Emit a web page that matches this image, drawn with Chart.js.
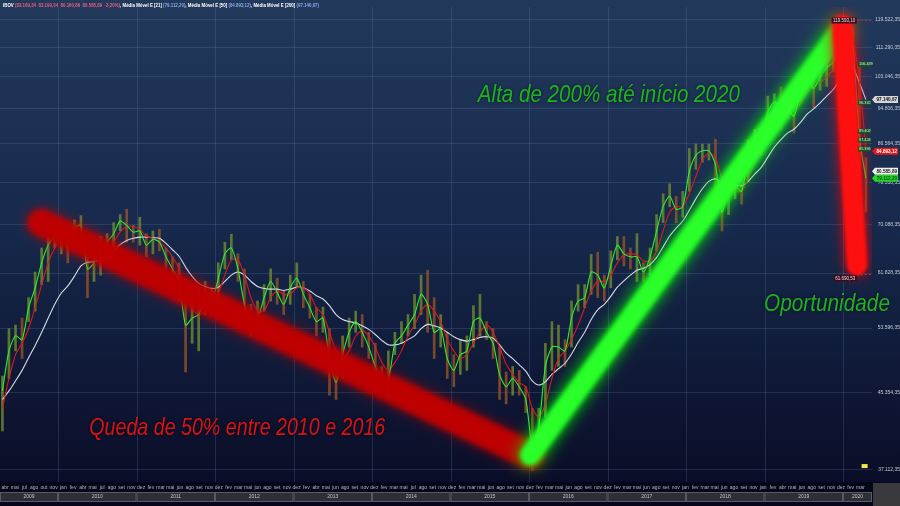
<!DOCTYPE html>
<html lang="pt-BR">
<head>
  <meta charset="UTF-8" />
  <title>IBOV - Queda, Alta e Oportunidade</title>
  <script src="https://cdn.jsdelivr.net/npm/chart.js"></script>
  <style>
    html, body { margin: 0; padding: 0; background: #0a0f2c; }
    canvas { display: block; }
  </style>
</head>
<body>
  <canvas id="ibovChart" width="900" height="506"></canvas>

  <script>
    // primeiro ponto = abr/2009 (meses contados a partir de jan/2009)
    const firstMonth = 3;

    // valores mensais em milhares de pontos (abr/2009 .. abr/2020)
    const ema21 = [
      45.5, 50.5, 52.5, 52.0, 56.5, 59.5, 63.5, 66.5, 68.0,
      68.5, 66.0, 69.5, 70.0, 62.5, 63.5, 65.5, 67.0, 68.5, 70.8, 70.0, 68.8,
      69.0, 66.5, 67.5, 67.0, 64.5, 62.5, 60.5, 54.0, 55.0, 55.5, 57.5, 57.5,
      61.0, 65.0, 66.0, 62.5, 57.0, 54.5, 55.0, 58.0, 60.5, 58.8, 57.0, 59.5,
      61.0, 58.5, 56.5, 54.5, 55.0, 49.5, 46.5, 50.0, 53.0, 54.5, 53.0, 51.0,
      48.5, 47.0, 47.0, 51.5, 52.5, 54.0, 55.5, 58.5, 57.0, 53.0, 53.5, 49.5,
      48.0, 50.0, 50.5, 54.5, 55.0, 53.0, 51.5, 47.5, 46.0, 47.0, 46.0, 44.5,
      39.5, 41.5, 48.5, 51.0, 51.0, 50.5, 55.0, 57.5, 58.0, 62.0, 61.5, 59.5,
      63.0, 66.5, 65.0, 64.5, 64.5, 62.0, 64.5, 69.0, 73.5, 75.5, 73.0, 73.5,
      80.5, 84.0, 85.0, 85.0, 82.0, 72.5, 76.5, 77.5, 76.5, 83.5, 87.0, 87.0,
      94.0, 96.5, 95.5, 95.0, 93.0, 99.0, 103.0, 100.0, 103.0, 105.5, 107.0, 112.0,
      116.0, 111.5, 88.0, 79.1
    ];
    const ema50 = [
      43.5, 47.0, 50.0, 51.5, 53.5, 56.5, 60.0, 63.5, 66.0,
      67.5, 67.5, 68.0, 68.5, 66.5, 65.0, 64.5, 65.5, 67.0, 68.8, 69.8, 69.8,
      69.3, 68.0, 67.7, 67.0, 66.0, 64.5, 62.5, 58.5, 56.5, 55.5, 56.0, 57.0,
      58.7, 61.5, 64.0, 64.0, 61.5, 58.0, 56.0, 56.0, 58.0, 59.0, 58.5, 58.5,
      59.5, 59.5, 58.5, 56.5, 55.5, 53.0, 50.5, 49.5, 50.5, 52.5, 53.2, 52.5,
      51.0, 49.0, 48.0, 49.0, 50.5, 52.5, 54.0, 56.0, 57.0, 56.0, 54.5, 52.0,
      50.5, 49.5, 50.0, 51.5, 53.0, 54.0, 53.0, 51.0, 48.8, 47.5, 46.5, 46.0,
      43.5, 42.5, 44.0, 47.0, 49.5, 50.5, 52.0, 54.0, 56.5, 59.0, 60.5, 60.5,
      61.5, 63.5, 64.8, 65.0, 64.8, 63.8, 63.8, 65.5, 69.0, 72.5, 73.5, 73.5,
      76.0, 79.5, 83.0, 84.5, 83.5, 79.0, 77.5, 76.5, 76.5, 79.0, 82.5, 85.5,
      89.5, 93.0, 95.0, 95.5, 94.8, 96.0, 99.0, 100.5, 101.5, 103.0, 105.0, 108.0,
      112.5, 112.5, 102.0, 84.9
    ];
    const ema200 = [
      44.5, 45.5, 46.7, 48.0, 49.6, 51.2, 53.0, 55.0, 57.0,
      58.7, 59.8, 61.3, 63.0, 63.6, 63.7, 64.0, 64.7, 65.5, 66.6, 67.3, 67.7,
      67.9, 67.9, 67.8, 67.7, 66.8, 65.7, 64.6, 62.8, 61.3, 60.2, 59.7, 59.4,
      59.6, 60.5, 61.5, 62.0, 61.5, 60.5, 59.7, 59.4, 59.3, 59.3, 59.1, 59.3,
      59.6, 59.5, 59.0, 58.3, 57.8, 56.8, 55.5, 54.8, 54.5, 54.3, 53.9, 53.4,
      52.7, 51.9, 51.3, 51.3, 51.5, 52.0, 52.5, 53.5, 54.1, 53.9, 53.6, 53.0,
      52.4, 52.0, 51.8, 52.0, 52.3, 52.4, 52.2, 51.3, 50.2, 49.5, 48.7, 47.9,
      46.7, 46.2, 46.6, 47.5, 48.2, 48.9, 50.1, 51.6, 53.0, 54.8, 56.2, 57.0,
      58.2, 59.6, 60.6, 61.5, 62.3, 62.6, 63.2, 64.4, 66.2, 68.1, 69.5, 70.8,
      72.8, 75.0, 77.0, 78.5, 79.0, 78.2, 77.9, 77.8, 77.6, 78.5, 80.0, 81.4,
      83.6, 85.8, 87.5, 89.0, 89.9, 91.5, 93.5, 94.8, 96.3, 98.0, 99.7, 102.0,
      104.5, 105.5, 101.5, 97.1
    ];
    const highs = [
      47.3, 53.5, 54.0, 55.0, 58.0, 62.0, 66.0, 68.0, 69.5,
      70.5, 68.0, 71.0, 71.8, 68.0, 66.0, 68.0, 68.5, 70.5, 72.0, 73.0, 70.0,
      71.5, 68.5, 69.0, 69.3, 66.0, 64.5, 63.5, 59.0, 58.5, 59.5, 60.5, 59.5,
      63.5, 67.0, 68.4, 65.0, 62.5, 57.0, 57.5, 60.0, 62.5, 61.0, 59.0, 61.5,
      63.5, 60.5, 58.5, 56.5, 56.6, 53.5, 49.0, 52.5, 55.0, 56.0, 55.5, 53.0,
      51.5, 48.5, 50.5, 53.0, 54.5, 55.5, 58.5, 61.5, 62.3, 58.0, 55.5, 53.0,
      50.0, 52.0, 52.5, 56.8, 58.5, 54.5, 53.5, 51.0, 47.8, 48.5, 48.0, 46.0,
      43.5, 43.5, 51.5, 54.5, 54.0, 52.0, 57.5, 60.0, 60.0, 64.9, 65.3, 61.5,
      65.5, 68.0, 68.0, 66.0, 68.5, 63.5, 66.0, 72.0, 76.0, 78.0, 75.5, 76.5,
      85.5, 86.5, 86.5, 86.5, 87.6, 77.5, 80.0, 81.0, 80.0, 87.5, 89.9, 90.0,
      98.0, 98.6, 100.4, 97.0, 97.0, 101.0, 106.0, 104.5, 105.5, 108.4, 109.5, 117.0,
      119.6, 117.0, 106.0, 83.5
    ];
    const lows = [
      41.0, 47.0, 50.5, 49.5, 54.5, 56.0, 60.0, 60.5, 66.0,
      65.0, 63.5, 67.0, 67.0, 58.0, 60.5, 61.5, 64.8, 65.5, 69.0, 67.0, 67.0,
      66.5, 64.5, 65.0, 65.5, 62.5, 60.5, 57.5, 47.8, 51.5, 50.5, 55.5, 55.5,
      57.0, 62.5, 64.0, 60.5, 54.0, 52.5, 53.0, 56.0, 57.5, 57.0, 55.5, 57.0,
      59.5, 56.5, 55.0, 52.5, 53.0, 45.0, 44.5, 47.0, 51.0, 53.0, 51.0, 49.5,
      46.5, 45.5, 44.9, 50.0, 51.5, 52.5, 53.5, 55.5, 53.0, 49.5, 51.0, 47.0,
      46.0, 47.5, 48.0, 51.0, 52.5, 52.0, 49.5, 44.5, 44.0, 45.0, 45.0, 43.0,
      37.0, 39.5, 42.5, 48.0, 48.5, 48.5, 51.0, 56.0, 56.5, 58.5, 58.0, 57.5,
      59.5, 64.0, 63.0, 62.5, 60.5, 60.5, 61.5, 65.5, 70.5, 73.5, 70.5, 71.5,
      76.5, 81.0, 82.5, 83.0, 76.0, 69.0, 72.0, 75.0, 74.0, 78.5, 84.5, 84.0,
      88.0, 94.0, 89.8, 92.5, 89.0, 96.5, 100.5, 95.0, 99.5, 100.5, 104.5, 108.0,
      112.5, 102.0, 61.7, 72.5
    ];

    // setas desenhadas por cima (mes, pontos)
    const fallX = [9.4, 84.15];
    const fallY = [70500, 38480];
    const riseX = [84.15, 131.7];
    const riseY = [38480, 116500];
    const crashX = [131.9, 134.14];
    const crashY = [118000, 63120];

    // eixo de precos (log)
    const yTickValues = [37112.35, 45354.35, 53596.35, 61828.35, 70088.35, 78330.35,
      86564.35, 94806.35, 103046.35, 111290.35, 119522.35];
    const yTickLabels = ['37.112,35', '45.354,35', '53.596,35', '61.828,35', '70.088,35', '78.330,35',
      '86.564,35', '94.806,35', '103.046,35', '111.290,35', '119.522,35'];

    // rotulos do eixo de tempo
    const monthLabels = [
      'abr', 'mai', 'jul', 'ago', 'out', 'nov',
      'jan', 'fev', 'abr', 'mai', 'jul', 'ago', 'set', 'nov',
      'dez', 'fev', 'mar', 'mai', 'jun', 'ago', 'set', 'nov',
      'dez', 'fev', 'mar', 'mai', 'jun', 'ago', 'set', 'nov',
      'dez', 'fev', 'abr', 'mai', 'jun', 'ago', 'set', 'nov',
      'dez', 'fev', 'mar', 'mai', 'jul', 'ago', 'set', 'nov',
      'dez', 'fev', 'mar', 'mai', 'jun', 'ago', 'set', 'nov',
      'dez', 'fev', 'mar', 'mai', 'jun', 'ago', 'set', 'nov',
      'dez', 'fev', 'mar', 'mai', 'jun', 'ago', 'set', 'nov',
      'jan', 'fev', 'mar', 'mai', 'jun', 'ago', 'set', 'nov',
      'jan', 'fev', 'abr', 'mai', 'jun', 'ago', 'set', 'nov', 'dez',
      'fev', 'mar'
    ];
    const years = ['2009', '2010', '2011', '2012', '2013', '2014', '2015', '2016', '2017', '2018', '2019', '2020'];

    // valores finais mostrados a direita
    const lastTags = [
      { value: 97140.67, text: '97.140,67', bg: '#d4d6da', fg: '#111' },
      { value: 84893.12, text: '84.893,12', bg: '#e3161c', fg: '#fff' },
      { value: 80585.89, text: '80.585,89', bg: '#f2f2f2', fg: '#111' },
      { value: 79112.20, text: '79.112,20', bg: '#26d626', fg: '#051' }
    ];
    const fiboTags = [
      { value: 106439, text: '106.439' },
      { value: 96332, text: '96.332' },
      { value: 89402, text: '89.402' },
      { value: 87424, text: '87.424' },
      { value: 85396, text: '85.396' }
    ];
    const peak = { value: 119593.10, text: '119.593,10' };
    const bottom = { value: 61690.53, text: '61.690,53' };

    const headerParts = [
      ['IBOV ', '#ffffff'],
      ['(83.169,34  83.199,34  80.160,86  80.585,89  -3,20%)', '#e5607a'],
      [', Média Móvel E [21] ', '#ffffff'],
      ['(79.112,20)', '#86a9e6'],
      [', Média Móvel E [50] ', '#ffffff'],
      ['(84.893,12)', '#86a9e6'],
      [', Média Móvel E [200] ', '#ffffff'],
      ['(97.140,67)', '#86a9e6']
    ];

    const notes = [
      { text: 'Alta de 200% até início 2020', x: 96.2, y: 98100, color: '#1eb41e', width: 262 },
      { text: 'Queda de 50% entre 2010 e 2016', x: 39.4, y: 41240, color: '#dd1212', width: 296 },
      { text: 'Oportunidade', x: 129.55, y: 56970, color: '#22b022', width: 126 }
    ];

    const months = ema21.map((_, i) => firstMonth + i + 0.5);
    const toPts = arr => arr.map((v, i) => ({ x: months[i], y: v * 1000 }));
    const linePts = (xs, ys) => xs.map((x, i) => ({ x: x, y: ys[i] }));

    const FONT = '"Liberation Sans", Arial, sans-serif';
    const GRID = 'rgba(95,125,175,0.26)';
    const firstTick = 3.898, tickStep = 1.4858;

    // fundo degrade + faixa do eixo de tempo
    const background = {
      id: 'background',
      beforeDraw(chart) {
        const { ctx, width, height, chartArea: a } = chart;
        const g = ctx.createLinearGradient(0, 0, 0, a.bottom);
        g.addColorStop(0, '#22395c');
        g.addColorStop(0.45, '#172a4d');
        g.addColorStop(1, '#0a0d27');
        ctx.save();
        ctx.fillStyle = g;
        ctx.fillRect(0, 0, width, a.bottom);
        ctx.fillStyle = '#05061a';
        ctx.fillRect(0, a.bottom, width, height - a.bottom);
        ctx.fillStyle = '#3a3a3e';
        ctx.fillRect(a.right + 1, a.bottom + 1, width - a.right - 1, height - a.bottom - 1);
        ctx.restore();
      },
      beforeDatasetsDraw(chart) {
        const { ctx, chartArea: a, scales: { x } } = chart;
        ctx.save();
        ctx.strokeStyle = GRID;
        ctx.lineWidth = 1;
        years.forEach((_, k) => {
          const px = Math.round(x.getPixelForValue(12 * k)) + 0.5;
          if (px <= a.left || px >= a.right) return;
          ctx.beginPath();
          ctx.moveTo(px, a.top);
          ctx.lineTo(px, a.bottom);
          ctx.stroke();
        });
        ctx.restore();
      },
      afterDraw(chart) {
        const { ctx, chartArea: a, scales: { x } } = chart;
        ctx.save();
        ctx.textAlign = 'center';
        ctx.textBaseline = 'middle';

        // meses
        ctx.font = '5px ' + FONT;
        ctx.fillStyle = '#b4b4bc';
        monthLabels.forEach((m, i) => {
          const px = x.getPixelForValue(firstTick + i * tickStep);
          ctx.fillText(m, px, a.bottom + 5.5);
        });

        // anos
        const top = a.bottom + 10, h = 10;
        years.forEach((yr, k) => {
          const x0 = Math.max(a.left, x.getPixelForValue(12 * k));
          const x1 = Math.min(a.right, x.getPixelForValue(12 * (k + 1)));
          if (x1 <= x0) return;
          ctx.fillStyle = '#2e2e36';
          ctx.fillRect(x0, top, x1 - x0, h);
          ctx.strokeStyle = '#5a5a64';
          ctx.strokeRect(x0 + 0.5, top + 0.5, x1 - x0 - 1, h - 1);
          ctx.fillStyle = '#c4c4cc';
          ctx.fillText(yr, (x0 + x1) / 2, top + h / 2);
        });
        ctx.restore();
      }
    };

    // brilho das setas
    const glow = {
      id: 'glow',
      beforeDatasetDraw(chart, args) {
        const ds = chart.data.datasets[args.index];
        if (!ds.glow) return;
        chart.ctx.save();
        chart.ctx.shadowColor = ds.glow;
        chart.ctx.shadowBlur = ds.glowBlur || 12;
        chart.ctx.filter = 'blur(' + (ds.soft || 1.5) + 'px)';
      },
      afterDatasetDraw(chart, args) {
        if (chart.data.datasets[args.index].glow) chart.ctx.restore();
      }
    };

    // textos, etiquetas e cabecalho
    const overlay = {
      id: 'overlay',
      afterDraw(chart) {
        const { ctx, chartArea: a, scales: { x, y } } = chart;
        ctx.save();

        // cabecalho
        ctx.font = 'bold 5px ' + FONT;
        ctx.textBaseline = 'middle';
        const total = headerParts.reduce((s, p) => s + ctx.measureText(p[0]).width, 0);
        const sx = 316 / total;
        ctx.save();
        ctx.translate(3, 6);
        ctx.scale(sx, 1);
        let hx = 0;
        headerParts.forEach(([t, c]) => {
          ctx.fillStyle = c;
          ctx.fillText(t, hx, 0);
          hx += ctx.measureText(t).width;
        });
        ctx.restore();

        // maxima e minima
        const dash = (val, label, below) => {
          const py = Math.round(y.getPixelForValue(val)) + 0.5;
          const xEnd = x.getPixelForValue(134.1);
          ctx.strokeStyle = '#b8303c';
          ctx.setLineDash([2, 2]);
          ctx.beginPath();
          ctx.moveTo(xEnd, py);
          ctx.lineTo(a.right, py);
          ctx.stroke();
          ctx.setLineDash([]);
          ctx.font = '4.5px ' + FONT;
          const w = ctx.measureText(label).width + 3;
          const by = below ? py + 1 : py - 3;
          ctx.fillStyle = '#3c0c1c';
          ctx.fillRect(xEnd - w, by, w, 6);
          ctx.fillStyle = '#f2d8dc';
          ctx.textAlign = 'right';
          ctx.fillText(label, xEnd - 1.5, by + 3);
        };
        dash(peak.value, peak.text, false);
        dash(bottom.value, bottom.text, true);

        // niveis de fibonacci
        ctx.font = '3.8px ' + FONT;
        ctx.textAlign = 'left';
        fiboTags.forEach(t => {
          const py = y.getPixelForValue(t.value);
          const x0 = x.getPixelForValue(134.3);
          ctx.fillStyle = 'rgba(16,86,34,0.9)';
          ctx.fillRect(x0, py - 2.5, 13, 5);
          ctx.fillStyle = '#d8f5d8';
          ctx.fillText(t.text, x0 + 1, py);
        });

        // etiquetas dos ultimos valores
        ctx.font = 'bold 4.6px ' + FONT;
        lastTags.forEach(t => {
          const py = y.getPixelForValue(t.value);
          const x0 = a.right + 2, x1 = 898;
          ctx.fillStyle = t.bg;
          ctx.beginPath();
          ctx.moveTo(x0 - 2, py);
          ctx.lineTo(x0 + 1, py - 3.5);
          ctx.lineTo(x1, py - 3.5);
          ctx.lineTo(x1, py + 3.5);
          ctx.lineTo(x0 + 1, py + 3.5);
          ctx.closePath();
          ctx.fill();
          ctx.fillStyle = t.fg;
          ctx.textAlign = 'right';
          ctx.fillText(t.text, x1 - 1, py + 0.3);
        });

        // marcador amarelo
        const mx = x.getPixelForValue(135.3), my = y.getPixelForValue(37420);
        ctx.fillStyle = '#f4ea4a';
        ctx.fillRect(mx - 3, my - 2, 6, 4);

        // anotacoes
        notes.forEach(n => {
          const px = x.getPixelForValue(n.x), py = y.getPixelForValue(n.y);
          ctx.font = 'italic 24px ' + FONT;
          const k = n.width / ctx.measureText(n.text).width;
          ctx.save();
          ctx.translate(px, py);
          ctx.scale(k, 1);
          ctx.textAlign = 'center';
          ctx.textBaseline = 'middle';
          ctx.shadowColor = 'rgba(0,0,0,0.6)';
          ctx.shadowBlur = 3;
          ctx.fillStyle = n.color;
          ctx.fillText(n.text, 0, 0);
          ctx.restore();
        });

        ctx.restore();
      }
    };

    new Chart(document.getElementById('ibovChart'), {
      type: 'line',
      data: {
        datasets: [
          {
            type: 'bar',
            label: 'IBOV',
            data: lows.map((l, i) => ({ x: months[i], y: [l * 1000, highs[i] * 1000] })),
            backgroundColor: c => {
              const i = c.dataIndex;
              const up = i === 0 || ema21[i] >= ema21[i - 1];
              return up ? 'rgba(120,146,46,0.75)' : 'rgba(160,86,38,0.75)';
            },
            barThickness: 2,
            order: 9
          },
          { label: 'MME 200', data: toPts(ema200), borderColor: '#d6dbe4', borderWidth: 1.1, order: 8 },
          { label: 'MME 50', data: toPts(ema50), borderColor: '#dc1a1a', borderWidth: 1.1, order: 7 },
          { label: 'MME 21', data: toPts(ema21), borderColor: '#2cf02c', borderWidth: 1.1, order: 6 },
          {
            label: 'Queda', data: linePts(fallX, fallY), borderColor: 'rgba(192,0,0,0.93)',
            borderWidth: 26, borderCapStyle: 'round', glow: 'rgba(200,0,0,0.9)', glowBlur: 12, soft: 2.5, order: 3
          },
          {
            label: 'Alta', data: linePts(riseX, riseY), borderColor: '#2aff2a',
            borderWidth: 20, borderCapStyle: 'round', glow: '#00ff00', glowBlur: 16, soft: 2, order: 2
          },
          {
            label: 'Crash', data: linePts(crashX, crashY), borderColor: '#ff1010',
            borderWidth: 20, borderCapStyle: 'round', glow: '#ff0000', glowBlur: 14, soft: 1.5, order: 1
          }
        ]
      },
      options: {
        responsive: false,
        devicePixelRatio: 1,
        animation: false,
        layout: { padding: 0 },
        elements: {
          point: { radius: 0 },
          line: { tension: 0.25 }
        },
        plugins: {
          legend: { display: false },
          tooltip: { enabled: false }
        },
        scales: {
          x: {
            type: 'linear',
            min: 3.13,
            max: 136.43,
            bounds: 'data',
            offset: false,
            grid: { display: false, offset: false },
            border: { display: false },
            ticks: { display: false },
            afterFit: axis => { axis.height = 24; }
          },
          y: {
            type: 'logarithmic',
            position: 'right',
            min: 35900,
            max: 123570,
            bounds: 'data',
            grid: { color: GRID, drawTicks: false },
            border: { display: false },
            ticks: {
              crossAlign: 'far',
              padding: 4,
              color: '#c6cbd6',
              font: { size: 5, family: FONT },
              callback: (v, i) => yTickLabels[i]
            },
            afterBuildTicks: axis => {
              axis.ticks = yTickValues.map(v => ({ value: v }));
            },
            afterFit: axis => { axis.width = 28; }
          }
        }
      },
      plugins: [background, glow, overlay]
    });
  </script>
</body>
</html>
